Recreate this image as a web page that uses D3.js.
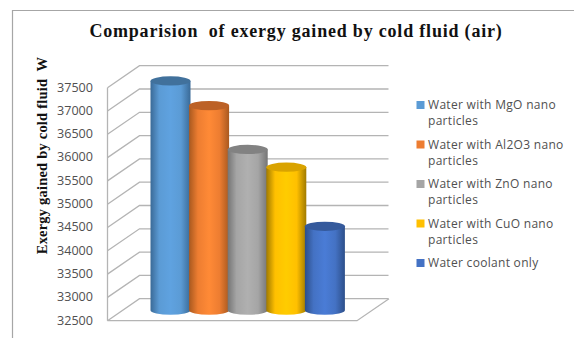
<!DOCTYPE html>
<html>
<head>
<meta charset="utf-8">
<script src="https://cdn.jsdelivr.net/npm/d3@7"></script>
<style>
html,body{margin:0;padding:0;background:#fff}
svg{display:block}
text{white-space:pre}
</style>
</head>
<body>
<svg id="chart" width="574" height="338"></svg>
<script>
// Chart content
const titleText = "Comparision  of exergy gained by cold fluid (air)";
const yTitle = "Exergy gained by cold fluid  W";
const seriesNames = ["MgO", "Al2O3", "ZnO", "CuO", "Plain"];
const seriesValues = [37420, 36890, 35950, 35570, 34300];
const tickValues = [32500, 33000, 33500, 34000, 34500, 35000, 35500, 36000, 36500, 37000, 37500];
const legendLines = [
  ["Water with MgO nano", "particles"],
  ["Water with Al2O3 nano", "particles"],
  ["Water with ZnO nano", "particles"],
  ["Water with CuO nano", "particles"],
  ["Water coolant only"]
];
// Base, highlight, shade and cap colours of each cylinder
const baseColors = ["#5b9bd5", "#ed7d31", "#a5a5a5", "#ffc000", "#4472c4"];
const lightColors = ["#5fa2e0", "#ff8a36", "#b0b0b0", "#ffcc00", "#4a7cd6"];
const darkColors = ["#3a6a97", "#a9591f", "#757575", "#a07a00", "#2d4f8a"];
const capColors = ["#41719c", "#bc6126", "#828282", "#d9a300", "#355a9c"];

const svg = d3.select("#chart");

// Frame around the chart area
svg.append("path")
  .attr("d", "M12.5,338V10.5H574")
  .attr("fill", "none").attr("stroke", "#a6a6a6").attr("stroke-width", 1.2);

// Front plane value scale and the oblique depth of the 3D box
const y = d3.scaleLinear().domain([32500, 37500]).range([320.7, 87.7]);
const frontLeft = 107.5, frontRight = 357, depthX = 32, depthY = -22;
const gridColor = "#b4b4b4";

const grid = svg.append("g").attr("fill", "none").attr("stroke", gridColor).attr("stroke-width", 1.3);
grid.selectAll("path.grid").data(tickValues).join("path").attr("class", "grid")
  .attr("d", v => `M${frontLeft},${y(v)}L${frontLeft + depthX},${y(v) + depthY}H${frontRight + depthX - 0.5}`);
// Floor edges and the left-hand axis
grid.append("path")
  .attr("d", `M${frontLeft},${y(32500)}H${frontRight}L${frontRight + depthX},${y(32500) + depthY}`);
grid.append("path")
  .attr("d", `M${frontLeft},${y(37500)}V${y(32500)}`);

// Tick labels
svg.append("g").selectAll("text").data(tickValues).join("text")
  .attr("x", 93).attr("y", v => y(v) + 0.5)
  .attr("text-anchor", "end").attr("dominant-baseline", "middle")
  .attr("font-family", "'Open Sans', sans-serif").attr("font-size", 12.6)
  .attr("fill", "#505050")
  .text(d => d);

// Cylinders: horizontal gradient body, darker elliptical cap
const defs = svg.append("defs");
seriesNames.forEach((name, i) => {
  const g = defs.append("linearGradient").attr("id", "body" + i)
    .attr("x1", "0%").attr("x2", "100%").attr("y1", "0%").attr("y2", "0%");
  g.append("stop").attr("offset", "0%").attr("stop-color", darkColors[i]);
  g.append("stop").attr("offset", "22%").attr("stop-color", baseColors[i]);
  g.append("stop").attr("offset", "50%").attr("stop-color", lightColors[i]);
  g.append("stop").attr("offset", "76%").attr("stop-color", baseColors[i]);
  g.append("stop").attr("offset", "100%").attr("stop-color", darkColors[i]);
});

const x = d3.scaleBand().domain(seriesNames).range([150.5, 343.5]).paddingInner(0);
const barWidth = 40, ry = 4.6, depthOffset = 10.5;
const bars = svg.append("g").selectAll("g").data(seriesNames).join("g");
bars.append("path")
  .attr("fill", (d, i) => `url(#body${i})`)
  .attr("d", (d, i) => {
    const left = x(d), right = left + barWidth, top = y(seriesValues[i]) - depthOffset, base = y(32500) - depthOffset;
    return `M${left},${top}V${base}A${barWidth / 2},${ry} 0 0 0 ${right},${base}V${top}Z`;
  });
bars.append("ellipse")
  .attr("cx", d => x(d) + barWidth / 2)
  .attr("cy", (d, i) => y(seriesValues[i]) - depthOffset)
  .attr("rx", barWidth / 2).attr("ry", ry)
  .attr("fill", (d, i) => capColors[i]);

// Title
svg.append("text").attr("x", 296).attr("y", 37)
  .attr("text-anchor", "middle")
  .attr("font-family", "'Liberation Serif', serif").attr("font-weight", "bold")
  .attr("font-size", 18).attr("letter-spacing", 0.8)
  .attr("fill", "#111").text(titleText);

// Vertical axis title
svg.append("text")
  .attr("transform", "translate(47,155.5) rotate(-90)")
  .attr("text-anchor", "middle")
  .attr("font-family", "'Liberation Serif', serif").attr("font-weight", "bold")
  .attr("font-size", 14.5).attr("letter-spacing", 0.2)
  .attr("fill", "#111").text(yTitle);

// Legend
const legendTop = [105, 144.5, 184, 223.5, 263];
const legend = svg.append("g").selectAll("g").data(legendLines).join("g");
legend.append("rect")
  .attr("x", 416.5).attr("y", (d, i) => legendTop[i] - 4)
  .attr("width", 8).attr("height", 8)
  .attr("fill", (d, i) => baseColors[i]);
legend.selectAll("text").data((d, i) => d.map((t, j) => ({ t, j, i }))).join("text")
  .attr("x", 428).attr("y", d => legendTop[d.i] + d.j * 16 + 4)
  .attr("font-family", "'Open Sans', sans-serif").attr("font-size", 12)
  .attr("letter-spacing", 0.3)
  .attr("fill", "#505050").text(d => d.t);
</script>
</body>
</html>
